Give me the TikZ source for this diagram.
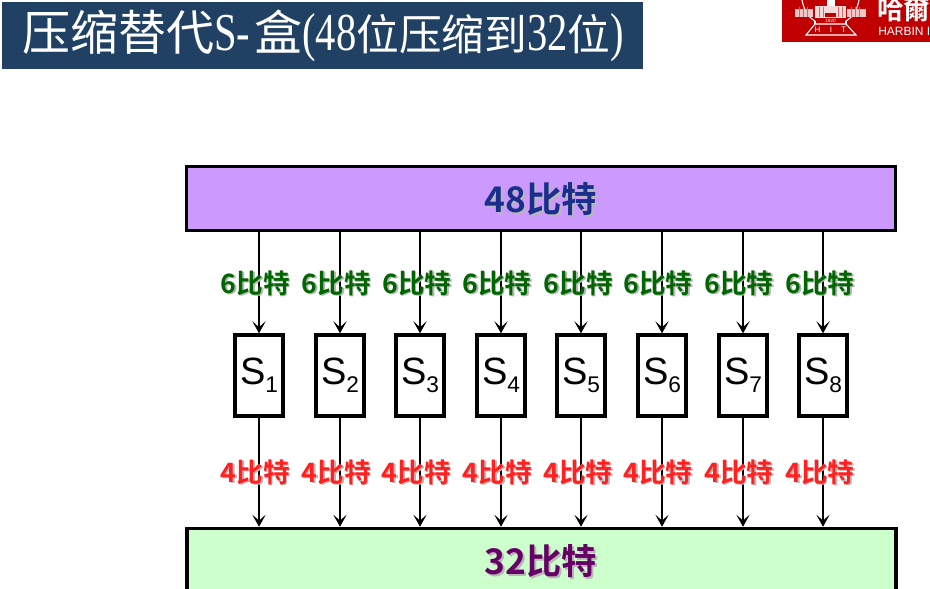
\documentclass[tikz,border=0pt]{standalone}
\usepackage{fontspec}
\setmainfont{Liberation Serif}
\setsansfont{Liberation Sans}
\newfontfamily\cjk{Noto Sans CJK SC}
\newfontfamily\cjkb{Noto Sans CJK SC Bold}
\usetikzlibrary{arrows.meta}
\definecolor{titlebg}{HTML}{204064}
\definecolor{logored}{HTML}{C00000}
\definecolor{topfill}{HTML}{CC99FF}
\definecolor{botfill}{HTML}{CCFFCC}
\definecolor{sixc}{HTML}{006600}
\definecolor{fourc}{HTML}{FF2020}
\definecolor{topc}{HTML}{1A2F8C}
\definecolor{botc}{HTML}{660066}
\newlength{\pxu}\setlength{\pxu}{0.75pt}
\newcommand{\nar}[1]{\scalebox{.76}[1]{\fontsize{40}{40}\selectfont #1}}
\newcommand{\subd}[1]{\raisebox{-6pt}{\fontsize{17}{17}\selectfont #1}}
\newcommand{\shadowed}[2]{\rlap{\hspace{1.2pt}\raisebox{-1.2pt}{\textcolor{black!28}{#2}}}\textcolor{#1}{#2}}
\tikzset{
  wide/.style={draw=black,line width=2.7pt,inner sep=0pt},
  sbox/.style={draw=black,line width=2.6pt,fill=white,minimum width=48\pxu,minimum height=81\pxu,inner sep=0pt,font=\fontsize{28.5}{28.5}\sffamily},
  conn/.style={draw=black,line width=1.6pt,-{Stealth[length=9pt,width=10pt,inset=4.5pt,line width=0.5pt]}},
  lab/.style={inner sep=0pt,font=\fontsize{20}{20}\cjkb},
  head/.style={inner sep=0pt,font=\fontsize{26.5}{26.5}\cjkb},
  logoline/.style={white,line width=0.8pt},
}
\begin{document}
\begin{tikzpicture}[x=0.75pt,y=-0.75pt]
\useasboundingbox (0,0) rectangle (930,588);
% title
\fill[titlebg] (2,2) rectangle (643,69);
\node[anchor=west,inner sep=0pt,text=white,font=\fontsize{36}{36}\selectfont] (title) at (22,36)
  {{\cjk 压缩替代}\nar{S-}\hspace{3pt}{\cjk 盒}\nar{(48}{\fontsize{32}{32}\cjk 位压缩到}\nar{32}{\fontsize{32}{32}\cjk 位}\nar{)}};
% logo
\begin{scope}
\clip (782,0) rectangle (930,42);
\fill[logored] (782,0) rectangle (930,42);
\node[anchor=west,inner sep=0pt,text=white,font=\fontsize{20}{20}\cjkb] (lg1) at (877,9) {哈爾};
\node[anchor=west,inner sep=0pt,text=white,font=\fontsize{9}{9}\sffamily] (lg2) at (878,31) {HARBIN I};
\draw[logoline] (802,0) .. controls (804,10) and (808,17) .. (815,21);
\draw[logoline] (859,0) .. controls (857,10) and (853,17) .. (846,21);
\fill[white!78!logored] (795,9) rectangle (813,17);
\fill[white!78!logored] (847,9) rectangle (866,17);
\fill[white!85!logored] (815,6) rectangle (846,18);
\fill[white] (827,0) rectangle (835,6);
\fill[logored] (825,13) rectangle (836,17);
\foreach \gx in {799,803,807,851,855,859,819,823,838,842}{\draw[logored!60!white,line width=0.3pt] (\gx,7) -- (\gx,17);}
\draw[logoline] (806,35) -- (815,24) -- (846,24) -- (856,35) -- cycle;
\draw[logoline] (815,21) -- (815,24) (846,21) -- (846,24);
\node[inner sep=0pt,text=white,font=\fontsize{3.5}{3.5}\sffamily] (lg4) at (830.5,20.5) {1920};
\node[inner sep=0pt,text=white,font=\fontsize{6}{6}\sffamily] (lg3) at (830.5,29.5) {H\hspace{7pt}I\hspace{7pt}T};
\end{scope}
% boxes
\node[wide,fill=topfill,minimum width=709\pxu,minimum height=64\pxu] (top) at (541,198.5) {};
\begin{scope}
\clip (0,0) rectangle (930,588);
\node[wide,fill=botfill,minimum width=709\pxu,minimum height=64\pxu] (bot) at (541.5,560.5) {};
\end{scope}
\node[head] (toplab) at (541,200) {\shadowed{topc}{48比特}};
\node[head] (botlab) at (541,562) {\shadowed{botc}{32比特}};
% S boxes and connectors
\foreach \i/\x in {1/259,2/340,3/420,4/501,5/581,6/662,7/743,8/823}{
  \node[sbox] (s\i) at (\x,375.5) {S\subd{\i}};
  \coordinate (a\i) at (s\i |- top.south);
  \coordinate (b\i) at (s\i |- bot.north);
  \draw[conn] (a\i) -- (s\i.north);
  \draw[conn] (s\i.south) -- (b\i);
}
% labels
\foreach \i/\x in {1/255.5,2/336.5,3/417,4/497,5/578.5,6/658,7/739,8/820}{
  \node[lab] (six\i) at (\x,284) {\shadowed{sixc}{6比特}};
}
\foreach \i/\x in {1/255.5,2/336.5,3/416.5,4/497.5,5/578,6/658,7/739,8/820}{
  \node[lab] (four\i) at (\x,473) {\shadowed{fourc}{4比特}};
}
\end{tikzpicture}
\end{document}
